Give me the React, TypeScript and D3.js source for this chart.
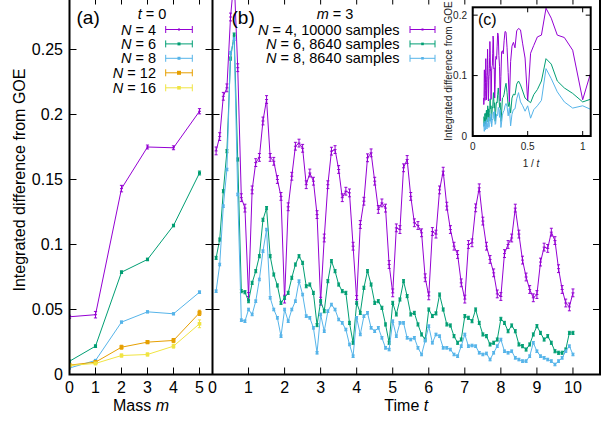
import React from 'react';
import * as d3 from 'd3';

// ---------- Data ----------
const massValues = [0, 1, 2, 3, 4, 5];
const massN4 = [0.0444, 0.046, 0.143, 0.175, 0.1744, 0.2025];
const massN6 = [0.0102, 0.0218, 0.0787, 0.0885, 0.1146, 0.155];
const massN8 = [0.005, 0.0108, 0.0403, 0.0482, 0.0467, 0.0633];
const massN12 = [0.0072, 0.0095, 0.021, 0.0249, 0.0262, 0.0474];
const massN16 = [0.0069, 0.0085, 0.0146, 0.0154, 0.0218, 0.039];
const massErrN4 = [0.0012, 0.0025, 0.0025, 0.0015, 0.0015, 0.002];
const massErrN6 = [0.0008, 0.001, 0.001, 0.001, 0.001, 0.0015];
const massErrN8 = [0.0006, 0.0008, 0.0008, 0.0008, 0.0008, 0.001];
const massErrN12 = [0.0008, 0.001, 0.0015, 0.0012, 0.0015, 0.002];
const massErrN16 = [0.0008, 0.001, 0.0012, 0.0012, 0.0015, 0.003];

const times = d3.range(1, 101).map((i) => i / 10);
const timeN4 = [
  0.172, 0.183, 0.214, 0.2205, 0.275, 0.305, 0.236, 0.136, 0.128, 0.06,
  0.142, 0.163, 0.167, 0.195, 0.2115, 0.167, 0.164, 0.15, 0.137, 0.058,
  0.129, 0.1525, 0.1756, 0.178, 0.174, 0.146, 0.155, 0.1487, 0.123, 0.0564,
  0.105, 0.146, 0.1718, 0.173, 0.1577, 0.136, 0.141, 0.1397, 0.0987, 0.0577,
  0.1154, 0.1333, 0.1667, 0.1705, 0.1487, 0.127, 0.132, 0.128, 0.0846, 0.0628,
  0.1128, 0.1115, 0.159, 0.1654, 0.137, 0.1167, 0.1146, 0.109, 0.0744, 0.0605,
  0.11, 0.108, 0.142, 0.1564, 0.1295, 0.1115, 0.0987, 0.0923, 0.0705, 0.058,
  0.1, 0.1013, 0.1282, 0.1436, 0.118, 0.0987, 0.0885, 0.0782, 0.062, 0.06,
  0.093, 0.1, 0.105, 0.128, 0.108, 0.088, 0.075, 0.0654, 0.059, 0.0615,
  0.0865, 0.098, 0.097, 0.1095, 0.103, 0.0814, 0.0654, 0.055, 0.052, 0.0628,
];
const timeN6 = [
  0.0897, 0.1038, 0.141, 0.1718, 0.243, 0.2615, 0.1654, 0.0641, 0.0633, 0.0564,
  0.0705, 0.0795, 0.091, 0.119, 0.128, 0.091, 0.0769, 0.0685, 0.0551, 0.059,
  0.0628, 0.0744, 0.0846, 0.091, 0.0859, 0.0679, 0.0692, 0.0628, 0.038, 0.0564,
  0.0487, 0.0718, 0.0872, 0.0795, 0.0692, 0.0641, 0.0628, 0.0397, 0.0244, 0.0551,
  0.0474, 0.0667, 0.0795, 0.0692, 0.0551, 0.0564, 0.0513, 0.0385, 0.0244, 0.0551,
  0.0462, 0.0577, 0.0718, 0.0603, 0.0462, 0.0474, 0.0385, 0.0308, 0.0269, 0.05,
  0.045, 0.047, 0.0615, 0.05, 0.0385, 0.0377, 0.0295, 0.0244, 0.0269, 0.0449,
  0.0436, 0.041, 0.05, 0.0397, 0.0308, 0.0295, 0.0231, 0.0244, 0.0269, 0.0428,
  0.0397, 0.0333, 0.0377, 0.0333, 0.0231, 0.0218, 0.0192, 0.0231, 0.0308, 0.0372,
  0.032, 0.0269, 0.0295, 0.0244, 0.0179, 0.0167, 0.0167, 0.0192, 0.032, 0.032,
];
const timeN8 = [
  0.0641, 0.0846, 0.1295, 0.1577, 0.2474, 0.258, 0.1385, 0.0418, 0.041, 0.05,
  0.0462, 0.0564, 0.0731, 0.0949, 0.1115, 0.059, 0.05, 0.0436, 0.0295, 0.05,
  0.041, 0.05, 0.0564, 0.0718, 0.0615, 0.0449, 0.0436, 0.0359, 0.0167, 0.0462,
  0.0333, 0.0487, 0.0538, 0.05, 0.0423, 0.0397, 0.0346, 0.0231, 0.0141, 0.0436,
  0.0308, 0.0449, 0.0474, 0.0359, 0.0333, 0.0359, 0.0282, 0.0205, 0.0192, 0.041,
  0.0295, 0.0397, 0.0397, 0.0282, 0.0269, 0.0282, 0.0205, 0.0154, 0.026, 0.0372,
  0.0244, 0.0308, 0.0295, 0.0205, 0.0205, 0.0192, 0.0154, 0.0141, 0.0218, 0.0308,
  0.0218, 0.0223, 0.0218, 0.0167, 0.0154, 0.0162, 0.0115, 0.0167, 0.0218, 0.0269,
  0.0179, 0.0167, 0.0179, 0.0128, 0.0115, 0.0103, 0.0103, 0.0141, 0.0244, 0.0179,
  0.0141, 0.0128, 0.0115, 0.0103, 0.0077, 0.0103, 0.0128, 0.0179, 0.0218, 0.0154,
];
const timeErrN4 = 0.003;
const timeErrN6 = 0.0012;
const timeErrN8 = 0.001;

const yTicks = [0, 0.05, 0.1, 0.15, 0.2, 0.25];
const yTickLabels = ['0', '0.05', '0.1', '0.15', '0.2', '0.25'];
const massTicks = [0, 1, 2, 3, 4, 5];
const timeTicks = [0, 1, 2, 3, 4, 5, 6, 7, 8, 9, 10];
const insetXTicks = [0, 0.5, 1];
const insetXTickLabels = ['0', '0.5', '1'];
const insetYTicks = [0, 0.1, 0.2];
const insetYTickLabels = ['0', '0.1', '0.2'];

const COLORS = {
  n4: '#9400d3',
  n6: '#009e73',
  n8: '#56b4e9',
  n12: '#e69f00',
  n16: '#f0e442',
};

const FONT = '"Liberation Sans", Arial, Helvetica, sans-serif';

// ---------- Scales ----------
const yScale = d3.scaleLinear().domain([0, 0.29]).range([374.5, -2.5]);
const xMass = d3.scaleLinear().domain([0, 5.5]).range([69.5, 212.5]);
const xTime = d3.scaleLinear().domain([0, 10.75]).range([212.5, 600]);
const xInset = d3.scaleLinear().domain([0, 1.073]).range([472.7, 590.7]);
const yInset = d3.scaleLinear().domain([0, 0.213]).range([136, 7.3]);

type Marker = 'plus' | 'square' | 'dot';

function ErrSeries(props: {
  xs: number[];
  ys: number[];
  errs: number[];
  x: (v: number) => number;
  y: (v: number) => number;
  color: string;
  marker: Marker;
  size: number;
  cap: number;
}) {
  const { xs, ys, errs, x, y, color, marker, size, cap } = props;
  const line = d3
    .line<number>()
    .x((_, i) => x(xs[i]))
    .y((d) => y(d));
  return (
    <g>
      <path d={line(ys) || ''} fill="none" stroke={color} strokeWidth={1} />
      {ys.map((v, i) => {
        const cx = x(xs[i]);
        const y1 = y(v - errs[i]);
        const y2 = y(v + errs[i]);
        const cy = y(v);
        return (
          <g key={i} stroke={color} strokeWidth={1}>
            <line x1={cx} x2={cx} y1={y1} y2={y2} />
            <line x1={cx - cap} x2={cx + cap} y1={y1} y2={y1} />
            <line x1={cx - cap} x2={cx + cap} y1={y2} y2={y2} />
            {marker === 'plus' ? (
              <line x1={cx - size} x2={cx + size} y1={cy} y2={cy} />
            ) : (
              <rect
                x={cx - size}
                y={cy - size}
                width={size * 2}
                height={size * 2}
                fill={color}
                stroke="none"
              />
            )}
          </g>
        );
      })}
    </g>
  );
}

function LegendSample(props: {
  x1: number;
  x2: number;
  y: number;
  color: string;
  marker: Marker;
  size: number;
}) {
  const { x1, x2, y, color, marker, size } = props;
  const cx = (x1 + x2) / 2;
  return (
    <g stroke={color} strokeWidth={1}>
      <line x1={x1} x2={x2} y1={y} y2={y} />
      <line x1={x1} x2={x1} y1={y - 3.5} y2={y + 3.5} />
      <line x1={x2} x2={x2} y1={y - 3.5} y2={y + 3.5} />
      {marker === 'plus' ? (
        <rect x={cx - 1} y={y - 1} width={2} height={2} fill={color} stroke="none" />
      ) : (
        <rect x={cx - size} y={y - size} width={size * 2} height={size * 2} fill={color} stroke="none" />
      )}
    </g>
  );
}

export default function App() {
  const top = yScale(0.29);
  const bottom = yScale(0);
  const tickLen = 7;

  const massSeries = [
    { label: '4', ys: massN4, errs: massErrN4, color: COLORS.n4, marker: 'plus' as Marker, size: 1.5 },
    { label: '6', ys: massN6, errs: massErrN6, color: COLORS.n6, marker: 'square' as Marker, size: 1.5 },
    { label: '8', ys: massN8, errs: massErrN8, color: COLORS.n8, marker: 'square' as Marker, size: 1.5 },
    { label: '12', ys: massN12, errs: massErrN12, color: COLORS.n12, marker: 'square' as Marker, size: 2 },
    { label: '16', ys: massN16, errs: massErrN16, color: COLORS.n16, marker: 'square' as Marker, size: 1.8 },
  ];

  const timeSeries = [
    { label: '4, 10000 samples', ys: timeN4, err: timeErrN4, color: COLORS.n4, marker: 'plus' as Marker, size: 1.5 },
    { label: '6, 8640 samples', ys: timeN6, err: timeErrN6, color: COLORS.n6, marker: 'square' as Marker, size: 1.3 },
    { label: '8, 8640 samples', ys: timeN8, err: timeErrN8, color: COLORS.n8, marker: 'square' as Marker, size: 1.3 },
  ];

  const insetLine = (ys: number[]) =>
    d3
      .line<number>()
      .x((_, i) => xInset(1 / times[i]))
      .y((d) => yInset(d))(ys) || '';

  const legendRowsA = [29.5, 43.9, 58.3, 72.8, 87.8];
  const legendRowsB = [29.5, 43.9, 58.3];

  return (
    <svg
      width={604}
      height={422}
      style={{ position: 'absolute', left: 0, top: 0, background: '#fff' }}
      fontFamily={FONT}
    >
      <defs>
        <clipPath id="clipA">
          <rect x={xMass(0)} y={top} width={xMass(5.5) - xMass(0)} height={bottom - top} />
        </clipPath>
        <clipPath id="clipB">
          <rect x={xTime(0)} y={top} width={xTime(10.75) - xTime(0)} height={bottom - top} />
        </clipPath>
        <clipPath id="clipC">
          <rect x={xInset(0)} y={yInset(0.213)} width={xInset(1.073) - xInset(0)} height={yInset(0) - yInset(0.213)} />
        </clipPath>
      </defs>

      {/* Panel (a) data */}
      <g clipPath="url(#clipA)">
        {massSeries.map((s) => (
          <ErrSeries
            key={s.label}
            xs={massValues}
            ys={s.ys}
            errs={s.errs}
            x={xMass}
            y={yScale}
            color={s.color}
            marker={s.marker}
            size={s.size}
            cap={1.6}
          />
        ))}
      </g>

      {/* Panel (b) data */}
      <g clipPath="url(#clipB)">
        {timeSeries.map((s) => (
          <ErrSeries
            key={s.label}
            xs={times}
            ys={s.ys}
            errs={s.ys.map(() => s.err)}
            x={xTime}
            y={yScale}
            color={s.color}
            marker={s.marker}
            size={s.size}
            cap={1.5}
          />
        ))}
      </g>

      {/* Ticks */}
      <g stroke="#000" strokeWidth={1}>
        {yTicks.map((t) => (
          <g key={'ya' + t}>
            <line x1={xMass(0)} x2={xMass(0) + tickLen} y1={yScale(t)} y2={yScale(t)} />
            <line x1={xMass(5.5) - tickLen} x2={xMass(5.5) + tickLen} y1={yScale(t)} y2={yScale(t)} />
            <line x1={xTime(10.75) - tickLen} x2={xTime(10.75)} y1={yScale(t)} y2={yScale(t)} />
          </g>
        ))}
        {massTicks.map((t) => (
          <g key={'xa' + t}>
            <line x1={xMass(t)} x2={xMass(t)} y1={bottom} y2={bottom - tickLen} />
            <line x1={xMass(t)} x2={xMass(t)} y1={top} y2={top + tickLen} />
          </g>
        ))}
        {timeTicks.map((t) => (
          <g key={'xb' + t}>
            <line x1={xTime(t)} x2={xTime(t)} y1={bottom} y2={bottom - tickLen} />
            <line x1={xTime(t)} x2={xTime(t)} y1={top} y2={top + tickLen} />
          </g>
        ))}
      </g>

      {/* Tick labels */}
      <g fontSize={16} fill="#000">
        {yTicks.map((t, i) => (
          <text key={'yl' + t} x={63} y={yScale(t)} dy="0.35em" textAnchor="end">
            {yTickLabels[i]}
          </text>
        ))}
        {massTicks.map((t) => (
          <text key={'xl' + t} x={xMass(t)} y={393} textAnchor="middle">
            {t}
          </text>
        ))}
        {timeTicks.map((t) => (
          <text key={'tl' + t} x={xTime(t)} y={393} textAnchor="middle">
            {t}
          </text>
        ))}
        <text x={(xMass(0) + xMass(5.5)) / 2} y={411} textAnchor="middle">
          Mass <tspan fontStyle="italic">m</tspan>
        </text>
        <text x={(xTime(0) + xTime(10.75)) / 2} y={411} textAnchor="middle">
          Time <tspan fontStyle="italic">t</tspan>
        </text>
        <text transform="translate(25,180) rotate(-90)" textAnchor="middle">
          Integrated difference from GOE
        </text>
      </g>

      {/* Panel labels */}
      <g fontSize={19} fill="#000">
        <text x={76.5} y={24}>(a)</text>
        <text x={231.5} y={24}>(b)</text>
      </g>

      {/* Legend (a) */}
      <g fontSize={14.5} fill="#000">
        <text x={152} y={19} textAnchor="middle">
          <tspan fontStyle="italic">t</tspan> = 0
        </text>
        {massSeries.map((s, i) => (
          <g key={'la' + s.label}>
            <text x={156} y={legendRowsA[i] + 5} textAnchor="end">
              <tspan fontStyle="italic">N</tspan> = {s.label}
            </text>
            <LegendSample x1={165.7} x2={192.3} y={legendRowsA[i]} color={s.color} marker={s.marker} size={s.size} />
          </g>
        ))}
      </g>

      {/* Legend (b) */}
      <g fontSize={14.5} fill="#000">
        <text x={335} y={19} textAnchor="middle">
          <tspan fontStyle="italic">m</tspan> = 3
        </text>
        {timeSeries.map((s, i) => (
          <g key={'lb' + s.label}>
            <text x={399.5} y={legendRowsB[i] + 5} textAnchor="end">
              <tspan fontStyle="italic">N</tspan> = {s.label}
            </text>
            <LegendSample x1={410} x2={435} y={legendRowsB[i]} color={s.color} marker={s.marker} size={s.size} />
          </g>
        ))}
      </g>

      {/* Inset (c) */}
      <g>
        <rect
          x={xInset(0)}
          y={yInset(0.213)}
          width={xInset(1.073) - xInset(0)}
          height={yInset(0) - yInset(0.213)}
          fill="#fff"
        />
        <g clipPath="url(#clipC)" fill="none" strokeWidth={1}>
          <path d={insetLine(timeN4)} stroke={COLORS.n4} />
          <path d={insetLine(timeN6)} stroke={COLORS.n6} />
          <path d={insetLine(timeN8)} stroke={COLORS.n8} />
        </g>
        <g stroke="#000" strokeWidth={1}>
          {insetXTicks.map((t) => (
            <g key={'ix' + t}>
              <line x1={xInset(t)} x2={xInset(t)} y1={yInset(0)} y2={yInset(0) - 5} />
              <line x1={xInset(t)} x2={xInset(t)} y1={yInset(0.213)} y2={yInset(0.213) + 5} />
            </g>
          ))}
          {insetYTicks.map((t) => (
            <g key={'iy' + t}>
              <line x1={xInset(0)} x2={xInset(0) + 5} y1={yInset(t)} y2={yInset(t)} />
              <line x1={xInset(1.073) - 5} x2={xInset(1.073)} y1={yInset(t)} y2={yInset(t)} />
            </g>
          ))}
        </g>
        <rect
          x={xInset(0)}
          y={yInset(0.213)}
          width={xInset(1.073) - xInset(0)}
          height={yInset(0) - yInset(0.213)}
          fill="none"
          stroke="#000"
          strokeWidth={2}
        />
        <g fontSize={10} fill="#222">
          {insetXTicks.map((t, i) => (
            <text key={'ixl' + t} x={xInset(t)} y={150.3} textAnchor="middle">
              {insetXTickLabels[i]}
            </text>
          ))}
          {insetYTicks.map((t, i) => (
            <text key={'iyl' + t} x={467} y={yInset(t)} dy="0.35em" textAnchor="end">
              {insetYTickLabels[i]}
            </text>
          ))}
          <text x={531} y={167} textAnchor="middle">
            1 / <tspan fontStyle="italic">t</tspan>
          </text>
          <text transform="translate(452,71) rotate(-90)" textAnchor="middle">
            Integrated difference from GOE
          </text>
        </g>
        <text x={478} y={25} fontSize={16} fill="#000">(c)</text>
      </g>

      {/* Borders */}
      <g stroke="#000" strokeWidth={2} fill="none">
        <rect x={xMass(0)} y={top} width={xTime(10.75) - xMass(0)} height={bottom - top} />
        <line x1={xTime(0)} x2={xTime(0)} y1={top} y2={bottom} />
      </g>
    </svg>
  );
}
